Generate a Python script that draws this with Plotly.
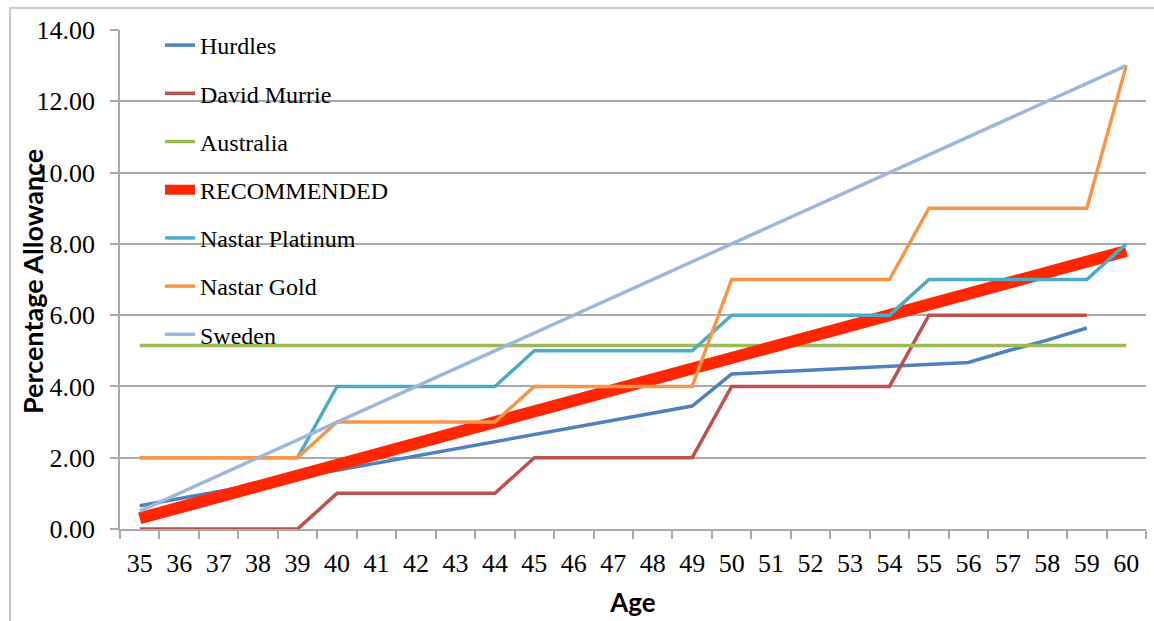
import plotly.graph_objects as go

ages = [str(a) for a in range(35, 61)]

hurdles = [0.65, 0.85, 1.05, 1.25, 1.45, 1.65, 1.85, 2.05, 2.25, 2.45, 2.65, 2.85, 3.05,
           3.25, 3.45, 4.35, 4.40, 4.45, 4.50, 4.55, 4.60, 4.67, 5.00, 5.30, 5.64, None]
david_murrie = [0, 0, 0, 0, 0, 1, 1, 1, 1, 1, 2, 2, 2, 2, 2, 4, 4, 4, 4, 4, 6, 6, 6, 6, 6, None]
australia = [5.15] * 26
recommended = [0.3, 0.6, 0.9, 1.2, 1.5, 1.8, 2.1, 2.4, 2.7, 3.0, 3.3, 3.6, 3.9, 4.2, 4.5,
               4.8, 5.1, 5.4, 5.7, 6.0, 6.3, 6.6, 6.9, 7.2, 7.5, 7.8]
nastar_platinum = [2, 2, 2, 2, 2, 4, 4, 4, 4, 4, 5, 5, 5, 5, 5, 6, 6, 6, 6, 6, 7, 7, 7, 7, 7, 8]
nastar_gold = [2, 2, 2, 2, 2, 3, 3, 3, 3, 3, 4, 4, 4, 4, 4, 7, 7, 7, 7, 7, 9, 9, 9, 9, 9, 13]
sweden = [0.5, 1.0, 1.5, 2.0, 2.5, 3.0, 3.5, 4.0, 4.5, 5.0, 5.5, 6.0, 6.5, 7.0, 7.5,
          8.0, 8.5, 9.0, 9.5, 10.0, 10.5, 11.0, 11.5, 12.0, 12.5, 13.0]

series = [
    ("Hurdles", hurdles, "#4F81BD", 3.5),
    ("David Murrie", david_murrie, "#C0504D", 3.5),
    ("Australia", australia, "#9BBB59", 3.5),
    ("RECOMMENDED", recommended, "#FF2600", 12),
    ("Nastar Platinum", nastar_platinum, "#4BACC6", 3.5),
    ("Nastar Gold", nastar_gold, "#F79646", 3.5),
    ("Sweden", sweden, "#9DB7DA", 3.5),
]

fig = go.Figure()
for i, (name, vals, color, w) in enumerate(series):
    fig.add_trace(go.Scatter(
        x=ages, y=vals, name=name, mode="lines",
        line=dict(color=color, width=w),
        legendgroup=f"g{i}", connectgaps=False,
    ))

grid = "#AAAAAA"
serif = "Liberation Serif"
fig.update_layout(
    width=1154, height=621,
    margin=dict(l=120, r=8, t=30, b=90),
    paper_bgcolor="white", plot_bgcolor="white",
    font=dict(family=serif, size=24, color="black"),
    legend=dict(
        x=0.039, y=1.014, xanchor="left", yanchor="top", maxheight=600,
        bgcolor="rgba(0,0,0,0)", traceorder="grouped", tracegroupgap=14,
        font=dict(family=serif, size=24, color="black"),
    ),
    xaxis=dict(
        type="category", range=[-0.5, 25.5], showgrid=False, showline=True,
        linecolor=grid, linewidth=1.5,
        ticks="outside", tickson="boundaries", ticklen=8, tickcolor=grid, tickwidth=1.5,
        ticklabelstandoff=10,
        tickfont=dict(family=serif, size=26, color="black"),
        title=dict(text="<b>Age</b>", font=dict(family="Lato", size=26, color="black"), standoff=17),
    ),
    yaxis=dict(
        range=[0, 14], dtick=2, tickformat=".2f", showgrid=True, gridcolor=grid, gridwidth=1.5,
        showline=True, linecolor=grid, linewidth=1.5, zeroline=False,
        ticks="outside", ticklen=8, tickcolor=grid, tickwidth=1.5,
        ticklabelstandoff=10,
        tickfont=dict(family=serif, size=26, color="black"),
    ),
    annotations=[dict(
        text="<b>Percentage Allowance</b>", textangle=-90, showarrow=False,
        xref="paper", yref="paper", x=(33 - 120) / 1026, y=0.495,
        xanchor="center", yanchor="middle",
        font=dict(family="Lato", size=27, color="black"),
    )],
    shapes=[dict(type="rect", xref="paper", yref="paper",
                 x0=-110 / 1026, x1=1.05, y0=-0.2, y1=(531 - 8) / 501,
                 line=dict(color="#C8C8C8", width=2), layer="below")],
)

fig.write_html("out.html")
